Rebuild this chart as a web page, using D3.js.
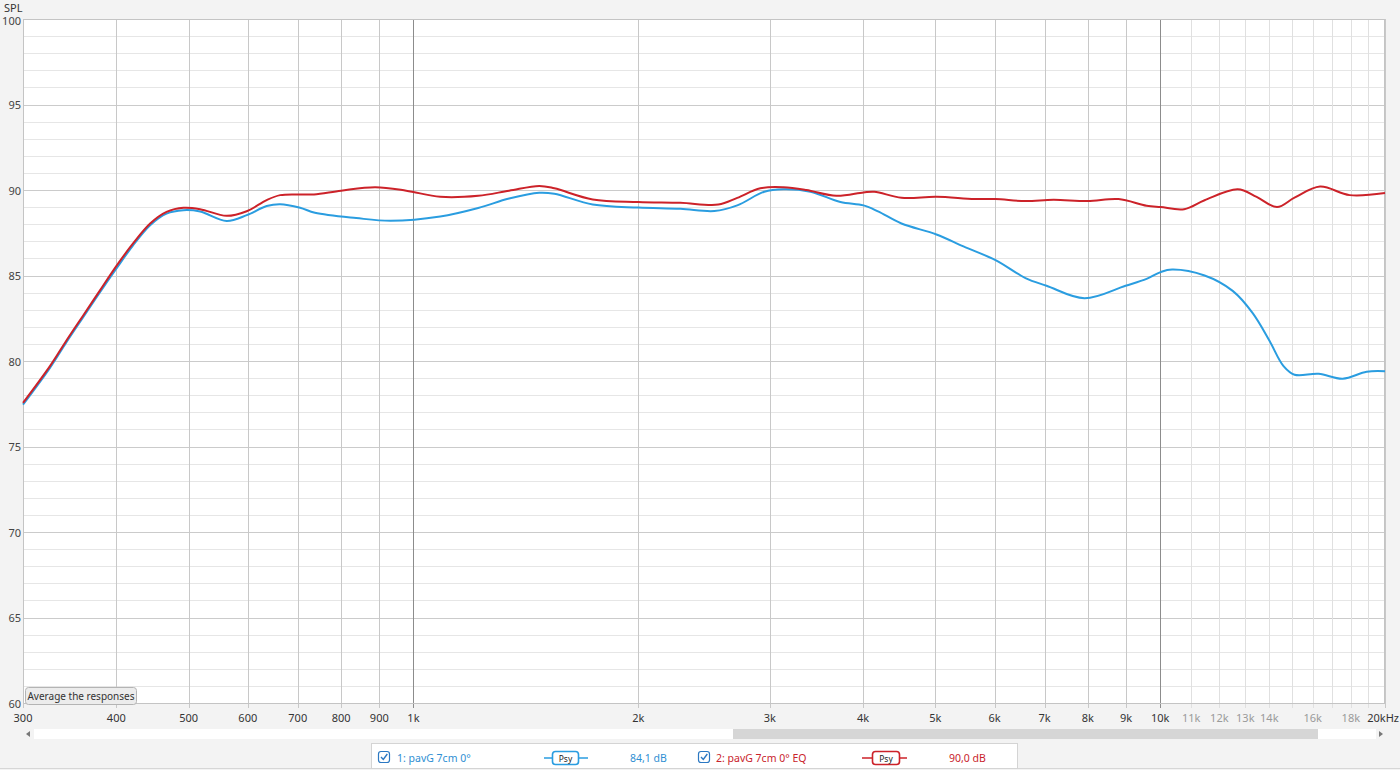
<!DOCTYPE html>
<html>
<head>
<meta charset="utf-8">
<script src="https://cdn.jsdelivr.net/npm/d3@7"></script>
<style>
  body { margin: 0; background: #f3f3f3; }
  svg { display: block; font-family: "Noto Sans", "Open Sans", sans-serif; }
</style>
</head>
<body>
<script>
const width = 1400;
const height = 770;
const plot = { left: 23, right: 1385, top: 19, bottom: 703 };

// frequency response readings (Hz, dB SPL)
const blueFreq = [300, 326, 343, 361, 380, 400, 421, 444, 467, 492, 518, 562, 598, 636, 663, 705, 738, 838, 932, 1086, 1221, 1343, 1474, 1544, 1738, 2000, 2278, 2529, 2714, 2950, 3129, 3401, 3730, 4006, 4189, 4503, 5016, 5452, 6018, 6600, 7043, 7918, 8986, 9589, 10012, 10372, 11467, 12504, 13300, 14000, 14627, 15131, 16298, 17554, 18900, 20000];
const blueSpl = [77.45, 79.6, 81.1, 82.55, 84.0, 85.4, 86.75, 87.94, 88.62, 88.82, 88.74, 88.19, 88.53, 89.06, 89.17, 88.96, 88.67, 88.36, 88.2, 88.45, 88.95, 89.5, 89.84, 89.78, 89.15, 88.97, 88.9, 88.77, 89.1, 89.9, 90.04, 89.9, 89.3, 89.1, 88.75, 88.04, 87.4, 86.7, 85.9, 84.85, 84.4, 83.67, 84.4, 84.8, 85.2, 85.35, 85.0, 84.1, 82.8, 81.2, 79.7, 79.2, 79.25, 78.96, 79.37, 79.4];

const redFreq = [300, 326, 343, 361, 380, 400, 421, 444, 467, 492, 518, 562, 598, 636, 663, 705, 736, 800, 889, 978, 1086, 1221, 1343, 1474, 1544, 1738, 2000, 2278, 2560, 2714, 2914, 3129, 3358, 3684, 4006, 4142, 4503, 5016, 5640, 6018, 6600, 7197, 7992, 8793, 9589, 10012, 10765, 11467, 12699, 13462, 14337, 15131, 16370, 17935, 20000];
const redSpl = [77.55, 79.7, 81.2, 82.65, 84.1, 85.55, 86.86, 88.04, 88.72, 88.96, 88.88, 88.49, 88.76, 89.41, 89.7, 89.74, 89.74, 89.96, 90.16, 89.96, 89.6, 89.66, 89.96, 90.24, 90.1, 89.45, 89.3, 89.25, 89.15, 89.54, 90.1, 90.16, 90.0, 89.66, 89.86, 89.9, 89.55, 89.6, 89.47, 89.47, 89.35, 89.43, 89.35, 89.47, 89.08, 89.0, 88.88, 89.4, 90.04, 89.6, 89.0, 89.55, 90.2, 89.7, 89.82];

const yTicks = [60, 65, 70, 75, 80, 85, 90, 95, 100];
const xTickValues = [300, 400, 500, 600, 700, 800, 900, 1000, 2000, 3000, 4000, 5000, 6000, 7000, 8000, 9000, 10000, 11000, 12000, 13000, 14000, 16000, 18000, 20000];
const xTickLabels = ['300', '400', '500', '600', '700', '800', '900', '1k', '2k', '3k', '4k', '5k', '6k', '7k', '8k', '9k', '10k', '11k', '12k', '13k', '14k', '16k', '18k', '20kHz'];

const legendNames = ['1: pavG 7cm 0°', '2: pavG 7cm 0° EQ'];
const legendValues = ['84,1 dB', '90,0 dB'];
const blueColor = '#2a9de0';
const redColor = '#cc2229';

const svg = d3.select('body').append('svg')
    .attr('width', width)
    .attr('height', height);

const xScale = d3.scaleLog().domain([300, 20000]).range([plot.left, plot.right]);
const yScale = d3.scaleLinear().domain([60, 100]).range([plot.bottom, plot.top]);

// plot background
svg.append('rect')
    .attr('x', plot.left)
    .attr('y', plot.top)
    .attr('width', plot.right - plot.left)
    .attr('height', plot.bottom - plot.top)
    .attr('fill', '#fff');

// horizontal grid, 1 dB steps, darker every 5 dB
svg.append('g')
    .selectAll('line')
    .data(d3.range(60, 101))
    .enter().append('line')
    .attr('x1', plot.left)
    .attr('x2', plot.right)
    .attr('y1', d => Math.round(yScale(d)) + 0.5)
    .attr('y2', d => Math.round(yScale(d)) + 0.5)
    .attr('stroke', d => d % 5 === 0 ? '#cbcbcb' : '#e6e6e6');

// vertical grid
const gridFreqs = d3.range(300, 1000, 100).concat(d3.range(1000, 10000, 1000), d3.range(10000, 20001, 1000));
svg.append('g')
    .selectAll('line')
    .data(gridFreqs)
    .enter().append('line')
    .attr('x1', d => Math.round(xScale(d)) + 0.5)
    .attr('x2', d => Math.round(xScale(d)) + 0.5)
    .attr('y1', plot.top)
    .attr('y2', plot.bottom + 5)
    .attr('stroke', d => (d === 1000 || d === 10000) ? '#8c8c8c' : (d > 10000 && d < 20000 ? '#e0e0e0' : '#c8c8c8'));

// plot frame
svg.append('rect')
    .attr('x', plot.left + 0.5)
    .attr('y', plot.top + 0.5)
    .attr('width', plot.right - plot.left - 1)
    .attr('height', plot.bottom - plot.top)
    .attr('fill', 'none')
    .attr('stroke', '#c4c4c4');

// y axis labels
svg.append('g')
    .selectAll('text')
    .data(yTicks)
    .enter().append('text')
    .attr('x', 21)
    .attr('y', d => yScale(d) + (d === 100 ? 6 : 4.5))
    .attr('text-anchor', 'end')
    .attr('font-size', '11px')
    .attr('fill', '#444')
    .text(d => d);

svg.append('text')
    .attr('x', 4)
    .attr('y', 12)
    .attr('font-size', '11px')
    .attr('fill', '#333')
    .text('SPL');

// x axis labels
svg.append('g')
    .selectAll('text')
    .data(xTickValues)
    .enter().append('text')
    .attr('x', d => d === 20000 ? 1399 : xScale(d))
    .attr('y', 722)
    .attr('text-anchor', d => d === 20000 ? 'end' : 'middle')
    .attr('font-size', '11px')
    .attr('fill', d => (d > 10000 && d < 20000) ? '#9a9a9a' : '#333')
    .text((d, i) => xTickLabels[i]);

// response curves
const line = d3.line()
    .x(d => xScale(d[0]))
    .y(d => yScale(d[1]))
    .curve(d3.curveCatmullRom.alpha(0.5));

svg.append('path')
    .datum(blueFreq.map((f, i) => [f, blueSpl[i]]))
    .attr('d', line)
    .attr('fill', 'none')
    .attr('stroke', blueColor)
    .attr('stroke-width', 2);

svg.append('path')
    .datum(redFreq.map((f, i) => [f, redSpl[i]]))
    .attr('d', line)
    .attr('fill', 'none')
    .attr('stroke', redColor)
    .attr('stroke-width', 2);

// "Average the responses" button
svg.append('rect')
    .attr('x', 25.5)
    .attr('y', 687.5)
    .attr('width', 111)
    .attr('height', 17)
    .attr('rx', 3)
    .attr('fill', '#ececec')
    .attr('stroke', '#b4b4b4');
svg.append('text')
    .attr('x', 81)
    .attr('y', 700)
    .attr('text-anchor', 'middle')
    .attr('font-size', '10px')
    .attr('fill', '#333')
    .text('Average the responses');

// scrollbar
svg.append('rect')
    .attr('x', 34).attr('y', 729)
    .attr('width', 1342).attr('height', 10)
    .attr('fill', '#fff');
svg.append('rect')
    .attr('x', 733).attr('y', 729)
    .attr('width', 585).attr('height', 10)
    .attr('fill', '#d6d6d6');
svg.append('path')
    .attr('d', 'M26,734 L30,731 L30,737 Z')
    .attr('fill', '#777');
svg.append('path')
    .attr('d', 'M1383,734 L1379,731 L1379,737 Z')
    .attr('fill', '#777');

// bottom separator
svg.append('line')
    .attr('x1', 0).attr('x2', width)
    .attr('y1', 768.5).attr('y2', 768.5)
    .attr('stroke', '#d6d6d6');

// legend box
svg.append('rect')
    .attr('x', 371.5).attr('y', 743.5)
    .attr('width', 646).attr('height', 25)
    .attr('fill', '#fff')
    .attr('stroke', '#d4d4d4');

const legendItems = [
    { box: 378, name: 397, lineX: 544, lineW: 44, icon: 552, iconW: 26, val: 630, color: blueColor, text: '#2f8fd3' },
    { box: 698, name: 716, lineX: 862, lineW: 45, icon: 872, iconW: 27, val: 949, color: redColor, text: '#c9232b' }
];

legendItems.forEach((it, i) => {
    const g = svg.append('g');
    // checkbox
    g.append('rect')
        .attr('x', it.box + 0.5).attr('y', 751.5)
        .attr('width', 11).attr('height', 11)
        .attr('rx', 2.5)
        .attr('fill', '#fff')
        .attr('stroke', '#2b78c2')
        .attr('stroke-width', 1.2);
    g.append('path')
        .attr('d', `M${it.box + 3},${757} L${it.box + 5.3},${759.5} L${it.box + 9.3},${754}`)
        .attr('fill', 'none')
        .attr('stroke', '#2b78c2')
        .attr('stroke-width', 1.4);
    g.append('text')
        .attr('x', it.name).attr('y', 761.5)
        .attr('font-size', '10.5px')
        .attr('fill', it.text)
        .text(legendNames[i]);
    // trace style icon
    g.append('line')
        .attr('x1', it.lineX).attr('x2', it.lineX + it.lineW)
        .attr('y1', 758).attr('y2', 758)
        .attr('stroke', it.color)
        .attr('stroke-width', 1.6);
    g.append('rect')
        .attr('x', it.icon + 0.5).attr('y', 751.5)
        .attr('width', it.iconW).attr('height', 13)
        .attr('rx', 3)
        .attr('fill', '#fff')
        .attr('stroke', it.color)
        .attr('stroke-width', 1.6);
    g.append('text')
        .attr('x', it.icon + 0.5 + it.iconW / 2).attr('y', 761.5)
        .attr('text-anchor', 'middle')
        .attr('font-size', '8.5px')
        .attr('fill', '#222')
        .text('Psy');
    g.append('text')
        .attr('x', it.val).attr('y', 761.5)
        .attr('font-size', '10.5px')
        .attr('fill', it.text)
        .text(legendValues[i]);
});
</script>
</body>
</html>
